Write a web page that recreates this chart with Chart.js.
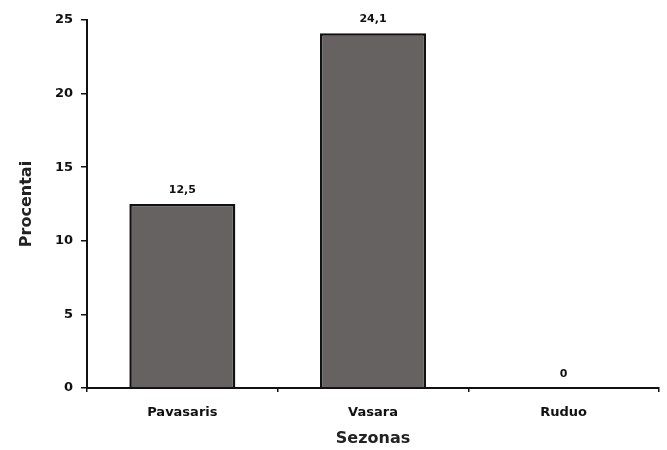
<!DOCTYPE html>
<html><head><meta charset="utf-8">
<script src="https://cdn.jsdelivr.net/npm/chart.js@4/dist/chart.umd.min.js"></script>
<style>html,body{margin:0;padding:0;background:#fff}#w{width:667px;height:450px}</style>
</head><body><div id="w"><canvas id="c" width="667" height="450"></canvas></div>
<script>
const categories = ["Pavasaris", "Vasara", "Ruduo"];
const values = [12.5, 24.1, 0];
const valueLabels = ["12,5", "24,1", "0"];
const yTicks = [0, 5, 10, 15, 20, 25];

const FONT = "'DejaVu Sans', sans-serif";

const labelPlugin = {
  id: 'valLabels',
  afterDatasetsDraw(chart) {
    const ctx = chart.ctx;
    const meta = chart.getDatasetMeta(0);
    ctx.save();
    ctx.font = "bold 11px " + FONT;
    ctx.fillStyle = "#111";
    ctx.textAlign = "center";
    ctx.textBaseline = "middle";
    meta.data.forEach((bar, i) => {
      ctx.fillText(valueLabels[i], bar.x, bar.y - 14);
    });
    ctx.restore();
  }
};

new Chart(document.getElementById('c'), {
  type: 'bar',
  data: {
    labels: categories,
    datasets: [{
      data: values,
      backgroundColor: '#666262',
      borderColor: '#111',
      borderWidth: 2.5,
      borderSkipped: 'bottom',
      barPercentage: 0.556,
      categoryPercentage: 1.0
    }]
  },
  options: {
    responsive: false,
    animation: false,
    devicePixelRatio: 1,
    layout: { padding: { left: 17, right: 8, top: 20, bottom: 2 } },
    plugins: { legend: { display: false }, tooltip: { enabled: false } },
    scales: {
      x: {
        grid: { display: true, offset: true, drawOnChartArea: false, color: '#111', tickLength: 4, lineWidth: 1.5 },
        border: { color: '#111', width: 2 },
        ticks: { color: '#111', font: { family: FONT, weight: 'bold', size: 13 }, padding: 13 },
        title: { display: true, text: 'Sezonas', color: '#222', font: { family: FONT, weight: 'bold', size: 16 }, padding: { top: 6, bottom: 0 } },
        afterFit(s) { s.height = 60; }
      },
      y: {
        min: 0, max: 25,
        afterBuildTicks(s) { s.ticks = yTicks.map(v => ({ value: v })); },
        grid: { display: true, drawOnChartArea: false, color: '#111', tickLength: 6, lineWidth: 1.5 },
        border: { color: '#111', width: 2 },
        ticks: { color: '#111', font: { family: FONT, weight: 'bold', size: 13 }, padding: 8 },
        title: { display: true, text: 'Procentai', color: '#222', font: { family: FONT, weight: 'bold', size: 16 }, padding: { top: 0, bottom: 10 } },
        afterFit(s) { s.width = 70; }
      }
    }
  },
  plugins: [labelPlugin]
});
</script></body></html>
